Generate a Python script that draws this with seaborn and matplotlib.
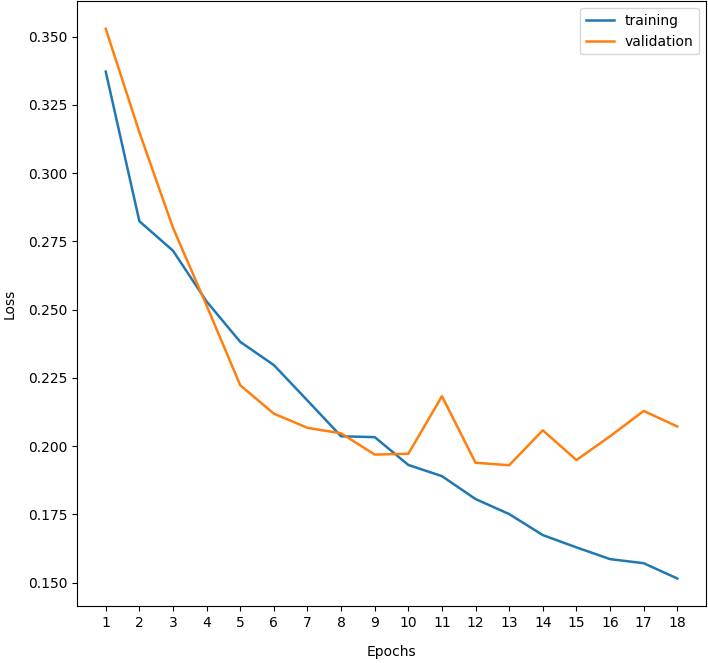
import numpy as np
import pandas as pd
import seaborn as sns
import matplotlib
matplotlib.use("Agg")
import matplotlib.pyplot as plt

epochs = list(range(1, 19))
training_loss = [0.3372, 0.2824, 0.2716, 0.2530, 0.2382, 0.2297, 0.2167, 0.2036, 0.2033,
                 0.1931, 0.1890, 0.1806, 0.1751, 0.1674, 0.1629, 0.1586, 0.1571, 0.1515]
validation_loss = [0.3529, 0.3150, 0.2800, 0.2515, 0.2223, 0.2119, 0.2067, 0.2047, 0.1969,
                   0.1972, 0.2183, 0.1939, 0.1930, 0.2058, 0.1949, 0.2036, 0.2129, 0.2072]

fig, ax = plt.subplots(figsize=(7.08, 6.63), dpi=100)

sns.lineplot(x=epochs, y=training_loss, label='training', color='#1f77b4', linewidth=1.8, ax=ax)
sns.lineplot(x=epochs, y=validation_loss, label='validation', color='#ff7f0e', linewidth=1.8, ax=ax)

ax.set_xticks(epochs)
ax.set_xlabel("Epochs", labelpad=11)
ax.set_ylabel("Loss", labelpad=8)
ax.legend(loc='upper right')

fig.subplots_adjust(left=0.109, right=0.997, bottom=0.086, top=0.998)
plt.savefig("out.png")
